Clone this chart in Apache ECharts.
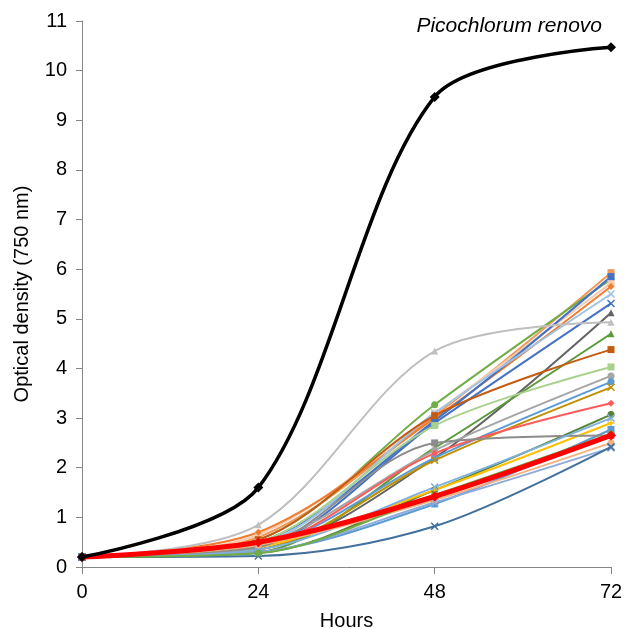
<!DOCTYPE html>
<html><head><meta charset="utf-8">
<script src="https://cdn.jsdelivr.net/npm/echarts@6/dist/echarts.min.js"></script>
<style>html,body{margin:0;padding:0;background:#fff}#c{width:624px;height:629px}</style>
</head><body><div id="c"></div>
<script>
const hours = [0, 24, 48, 72];
const yTicks = [0,1,2,3,4,5,6,7,8,9,10,11];
// each strain: OD750 at 0, 24, 48, 72 h
const sA = [0.2, 0.60, 3.05, 5.93];
const sB = [0.2, 0.55, 3.27, 5.80];
const sC = [0.2, 0.65, 3.10, 5.72];
const sD = [0.2, 0.70, 3.00, 5.65];
const sE = [0.2, 0.50, 2.95, 5.85];
const sF = [0.2, 0.45, 3.10, 5.50];
const sG = [0.2, 0.40, 2.90, 5.31];
const sH = [0.2, 0.35, 2.20, 5.12];
const sI = [0.2, 0.85, 4.35, 4.93];
const sJ = [0.2, 0.30, 2.40, 4.70];
const sK = [0.2, 0.55, 3.05, 4.38];
const sL = [0.2, 0.50, 2.85, 4.03];
const sM = [0.2, 0.45, 2.35, 3.85];
const sN = [0.2, 0.40, 2.20, 3.73];
const sO = [0.2, 0.35, 2.15, 3.62];
const sP = [0.2, 0.40, 2.29, 3.30];
const sQ = [0.2, 0.28, 1.55, 3.07];
const sR = [0.2, 0.40, 1.55, 2.90];
const sS = [0.2, 0.30, 1.27, 2.77];
const sT = [0.2, 0.40, 2.50, 2.65];
const sU = [0.2, 0.35, 1.61, 3.00];
const sV = [0.2, 0.45, 1.35, 2.50];
const sW = [0.2, 0.30, 1.30, 2.40];
const sX = [0.2, 0.22, 0.82, 2.42];
const sY = [0.2, 0.28, 1.45, 2.68];
const sAvg = [0.2, 0.50, 1.42, 2.65];
const sPico = [0.2, 1.60, 9.47, 10.47];
const picoName = 'Picochlorum renovo';

const strains = [
  [sA,'#F1975A','rect'],[sB,'#70AD47','circle'],[sC,'#F8CBAD','rect'],[sD,'#ED7D31','diamond'],
  [sE,'#4472C4','rect'],[sF,'#9DC3E6','x'],[sG,'#4472C4','x'],[sH,'#636363','triangle'],
  [sI,'#BFBFBF','triangle'],[sJ,'#5A9A3A','triangle'],[sK,'#C55A11','rect'],[sL,'#A9D18E','rect'],
  [sM,'#A5A5A5','circle'],[sN,'#5B9BD5','circle'],[sO,'#BF9000','x'],[sP,'#FF5B5B','diamond'],
  [sQ,'#548235','circle'],[sR,'#FFC000','plus'],[sS,'#5B9BD5','rect'],[sT,'#8C8C8C','rect'],
  [sU,'#7FB0DE','x'],[sV,'#F4B183','circle'],[sW,'#8FAADC','x'],[sX,'#41719C','x'],[sY,'#70AD47','circle']
];
const paths = {
  x: 'path://M0,0L2,2M2,0L0,2',
  plus: 'path://M1,0L1,2M0,1L2,1'
};
const SM = 0.32;
const series = strains.map((s,i)=>({
  type:'line', name:'S'+(i+1), smooth:SM,
  data: hours.map((h,j)=>[h, s[0][j]]),
  lineStyle:{color:s[1], width:2},
  itemStyle:{color:s[1], borderColor:s[1], borderWidth:(s[2]==='x'||s[2]==='plus')?1.5:0},
  symbol: paths[s[2]] || s[2], symbolSize:7, showSymbol:true
}));
series.push({
  type:'line', name:'mean', smooth:SM, z:5,
  data: hours.map((h,j)=>[h, sAvg[j]]),
  lineStyle:{color:'#FF0000', width:5}, itemStyle:{color:'#FF0000'},
  symbol:'diamond', symbolSize:10
});
series.push({
  type:'line', name:picoName, smooth:0.3, z:6,
  data: hours.map((h,j)=>[h, sPico[j]]),
  lineStyle:{color:'#000000', width:3.5}, itemStyle:{color:'#000000'},
  symbol:'diamond', symbolSize:10
});

const chart = echarts.init(document.getElementById('c'));
chart.setOption({
  animation:false,
  textStyle:{fontFamily:'Liberation Sans, Arial, sans-serif'},
  grid:{left:82, right:13, top:21, bottom:62, outerBoundsMode:'none', containLabel:false},
  xAxis:{type:'value', min:0, max:72, interval:24,
    name:'Hours', nameLocation:'middle', nameGap:44,
    nameTextStyle:{fontSize:20, color:'#000'},
    axisLine:{lineStyle:{color:'#868686', width:1}},
    axisTick:{show:true, length:7, lineStyle:{color:'#868686'}},
    axisLabel:{fontSize:20, color:'#000', margin:15},
    splitLine:{show:false}},
  yAxis:{type:'value', min:0, max:11, interval:1,
    name:'Optical density (750 nm)', nameLocation:'middle', nameGap:50,
    nameTextStyle:{fontSize:20, color:'#000'},
    axisLine:{show:true, lineStyle:{color:'#868686', width:1}},
    axisTick:{show:true, length:6, lineStyle:{color:'#868686'}},
    axisLabel:{fontSize:20, color:'#000', margin:15,
      formatter:v=>yTicks.includes(v)?String(v):''},
    splitLine:{show:false}},
  graphic:[{type:'text', right:22, top:16,
    style:{text:picoName, font:'italic 21px "Liberation Sans", Arial, sans-serif', fill:'#000'}}],
  series
});
</script></body></html>
